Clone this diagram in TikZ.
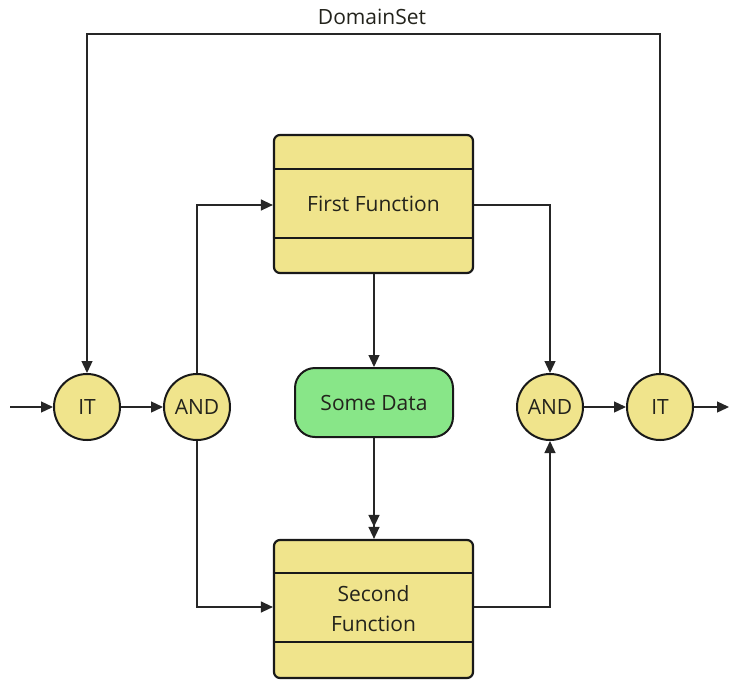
\documentclass[tikz,border=0pt]{standalone}
\usepackage{fontspec}
\setmainfont{Open Sans}
\usetikzlibrary{arrows.meta,positioning,calc}
\definecolor{fyellow}{RGB}{240,228,140}
\definecolor{fgreen}{RGB}{136,230,136}
\definecolor{txt}{RGB}{35,35,28}
\tikzset{
  conn/.style={line width=1.3pt, draw=black!85, -{Triangle[length=12pt,width=11pt]}},
  gate/.style={circle, draw=black!90, line width=2pt, fill=fyellow, minimum size=66pt, inner sep=0pt, font=\fontsize{21}{24}\selectfont, text=txt},
  func/.style={rectangle, rounded corners=6pt, draw=black!90, line width=2.2pt, fill=fyellow, minimum width=199pt, minimum height=138pt, inner sep=0pt, align=center, font=\fontsize{21}{30}\selectfont, text=txt},
  datan/.style={rectangle, rounded corners=20pt, draw=black!90, line width=2pt, fill=fgreen, minimum width=158pt, minimum height=69pt, inner sep=0pt, font=\fontsize{21}{24}\selectfont, text=txt},
  lbl/.style={font=\fontsize{21}{24}\selectfont, text=txt},
  sep/.style={line width=1.5pt, draw=black!90}
}
\begin{document}
\begin{tikzpicture}[x=1pt,y=-1pt]
\useasboundingbox (0,0) rectangle (730,681);
% gates
\node[gate] (it1) at (87,407) {IT};
\node[gate] (and1) at (197,407) {AND};
\node[gate] (and2) at (550,407) {AND};
\node[gate] (it2) at (660,407) {IT};
% functions
\node[func] (f1) at (373.5,204) {First Function};
\draw[sep] ($(f1.north west)+(0,35)$) -- ($(f1.north east)+(0,35)$);
\draw[sep] ($(f1.south west)+(0,-36)$) -- ($(f1.south east)+(0,-36)$);
\node[func] (f2) at (373.5,609) {Second\\Function};
\draw[sep] ($(f2.north west)+(0,34)$) -- ($(f2.north east)+(0,34)$);
\draw[sep] ($(f2.south west)+(0,-37)$) -- ($(f2.south east)+(0,-37)$);
% data
\node[datan] (d) at (374,402.5) {Some Data};
% label
\node[lbl] (ds) at (372,17) {DomainSet};
% coordinates
\coordinate (in) at (10,407);
\coordinate (out) at (729,407);
\coordinate (c1) at (197,205);
\coordinate (c2) at (197,607);
\coordinate (c3) at (550,205);
\coordinate (c4) at (550,607);
\coordinate (t1) at (660,34);
\coordinate (t2) at (87,34);
% connectors
\draw[conn] (in) -- (it1.west);
\draw[conn] (it1.east) -- (and1.west);
\draw[conn] (and2.east) -- (it2.west);
\draw[conn] (it2.east) -- (out);
\draw[conn] (and1.north) -- (c1) -- (f1.west |- c1);
\draw[conn] (and1.south) -- (c2) -- (f2.west |- c2);
\draw[conn] (f1.east |- c3) -- (c3) -- (and2.north);
\draw[conn] (f2.east |- c4) -- (c4) -- (and2.south);
\draw[conn] (it2.north) -- (t1) -- (t2) -- (it1.north);
\draw[conn] (f1.south -| d.north) -- (d.north);
\draw[line width=1.3pt, draw=black!85, -{Triangle[length=12pt,width=11pt]Triangle[length=12pt,width=11pt]}] (d.south) -- (f2.north -| d.south);
\end{tikzpicture}
\end{document}
